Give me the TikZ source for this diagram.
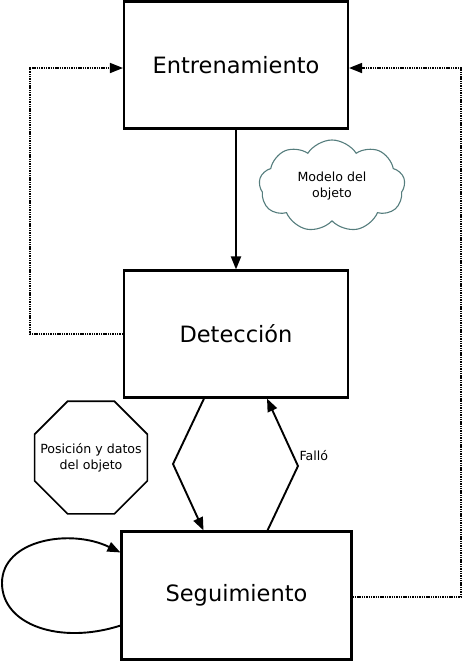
\documentclass[tikz,border=0pt]{standalone}
\usepackage{fontspec}
\setmainfont{DejaVu Sans}
\usetikzlibrary{arrows.meta,shapes.geometric,shapes.symbols}
\definecolor{cloudline}{RGB}{85,125,125}
\begin{document}
\begin{tikzpicture}[x=1pt,y=-1pt,
  box/.style={draw,line width=2.1pt,minimum width=224pt,minimum height=127pt,inner sep=0pt,
    font=\fontsize{22.5}{27}\selectfont},
  arr/.style={line width=1.9pt,-{Triangle[length=13pt,width=10pt]}},
  dotline/.style={line width=1.6pt,dash pattern=on 1.4pt off 0.9pt,-{Triangle[length=13pt,width=10pt]}},
  small/.style={font=\fontsize{12.6}{16}\selectfont,align=center}]
\useasboundingbox (0,0) rectangle (464,662);
\node[box] (entr) at (236,65) {Entrenamiento};
\node[box] (det) at (236,334) {Detección};
\node[box,minimum width=230pt,minimum height=128pt] (seg) at (236.5,595.5) {Seguimiento};
\node[draw=cloudline,line width=1.1pt,cloud,cloud puffs=9,cloud puff arc=115,aspect=1.6,
  minimum width=146pt,minimum height=92pt,inner sep=0pt,small] (cloud) at (332,186) {Modelo del\\objeto};
\node[draw,line width=1.7pt,regular polygon,regular polygon sides=8,minimum size=122pt,inner sep=0pt,
  label={[small]center:Posición y datos\\del objeto}] (oct) at (91,457.5) {};
\coordinate (lx) at (30,0);
\coordinate (rx) at (461,0);
\coordinate (zl) at (173,464);
\coordinate (zr) at (298,466);
\coordinate (lt) at ([yshift=-3pt]entr.west);
\coordinate (rt) at ([yshift=-3pt]entr.east);
\draw[arr] (entr) -- (entr |- det.north);
\draw[arr] ([xshift=-32pt]det.south) -- (zl) -- ([xshift=-33pt]seg.north);
\draw[arr] ([xshift=31pt]seg.north) -- (zr) -- node[pos=0.15,right=2pt,small] (fallo) {Falló} ([xshift=31pt]det.south);
\draw[dotline] (det.west) -| (lx |- lt) -- (lt);
\draw[dotline] ([yshift=-1.5pt]seg.east) -| (rx |- rt) -- (rt);
\draw[arr] ([yshift=35pt]seg.south west) .. controls (60,645) and (2,625) .. (2,583)
  .. controls (2,540) and (70,528) .. ([yshift=-22pt]seg.north west);
\end{tikzpicture}
\end{document}
